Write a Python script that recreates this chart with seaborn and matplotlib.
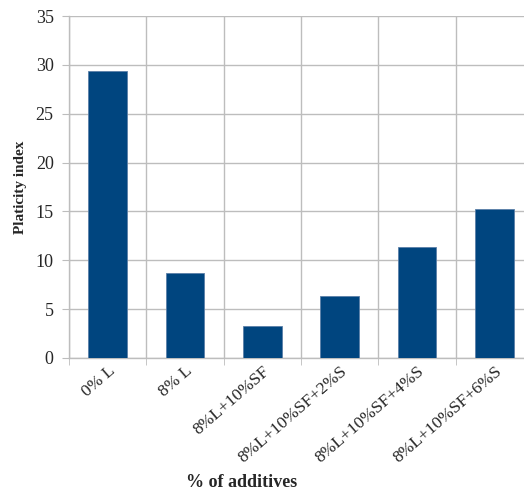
import numpy as np
import matplotlib
matplotlib.use("Agg")
import matplotlib.pyplot as plt
import matplotlib.transforms as mtransforms
import seaborn as sns

# data
additives = ["0% L", "8% L", "8%L+10%SF", "8%L+10%SF+2%S",
             "8%L+10%SF+4%S", "8%L+10%SF+6%S"]
plasticity = [29.4, 8.7, 3.3, 6.3, 11.4, 15.2]
y_ticks = [0, 5, 10, 15, 20, 25, 30, 35]

bar_color = "#00457F"
grid_color = "#BDBDBD"

sns.set_style("white")
plt.rcParams["font.family"] = ["Liberation Serif", "DejaVu Serif"]

fig = plt.figure(figsize=(5.24, 4.93), dpi=100)
# axes runs a bit past the right edge of the figure, like the cropped original
ax = fig.add_axes([69 / 524, 135 / 493, 464 / 524, 342 / 493])

sns.barplot(x=additives, y=plasticity, color=bar_color, width=0.5,
            saturation=1, edgecolor="#5B7FA8", linewidth=0.6, ax=ax, zorder=3)

ax.set_xlim(-0.5, len(additives) - 0.5)
ax.set_ylim(0, 35)
ax.set_yticks(y_ticks)
ax.tick_params(axis="y", labelsize=13, length=5, color=grid_color,
               left=True, pad=6)

# vertical grid lines sit between categories
ax.set_xticks(np.arange(-0.5, len(additives)), minor=True)
ax.grid(True, axis="y", color=grid_color, linewidth=1, zorder=0)
ax.grid(True, axis="x", which="minor", color=grid_color, linewidth=1, zorder=0)
ax.tick_params(axis="x", which="minor", length=5, color=grid_color, bottom=True)
ax.tick_params(axis="x", which="major", length=0, labelsize=12.5, pad=0)

for lab in ax.get_xticklabels():
    lab.set_rotation(41)
    lab.set_ha("right")
    lab.set_va("center")
    lab.set_rotation_mode("anchor")
    lab.set_transform(lab.get_transform() +
                      mtransforms.ScaledTranslation(4 / 72, -8 / 72, fig.dpi_scale_trans))

for side in ["top", "right"]:
    ax.spines[side].set_visible(False)
for side in ["left", "bottom"]:
    ax.spines[side].set_color(grid_color)
    ax.spines[side].set_linewidth(1)

ax.set_ylabel("Platicity index", fontsize=11, fontweight="bold", va="center")
ax.yaxis.set_label_coords(-0.104, 0.5)
ax.set_xlabel("% of additives", fontsize=13, fontweight="bold", va="center")
ax.xaxis.set_label_coords(0.371, -0.365)

fig.savefig("out.png", dpi=100)
